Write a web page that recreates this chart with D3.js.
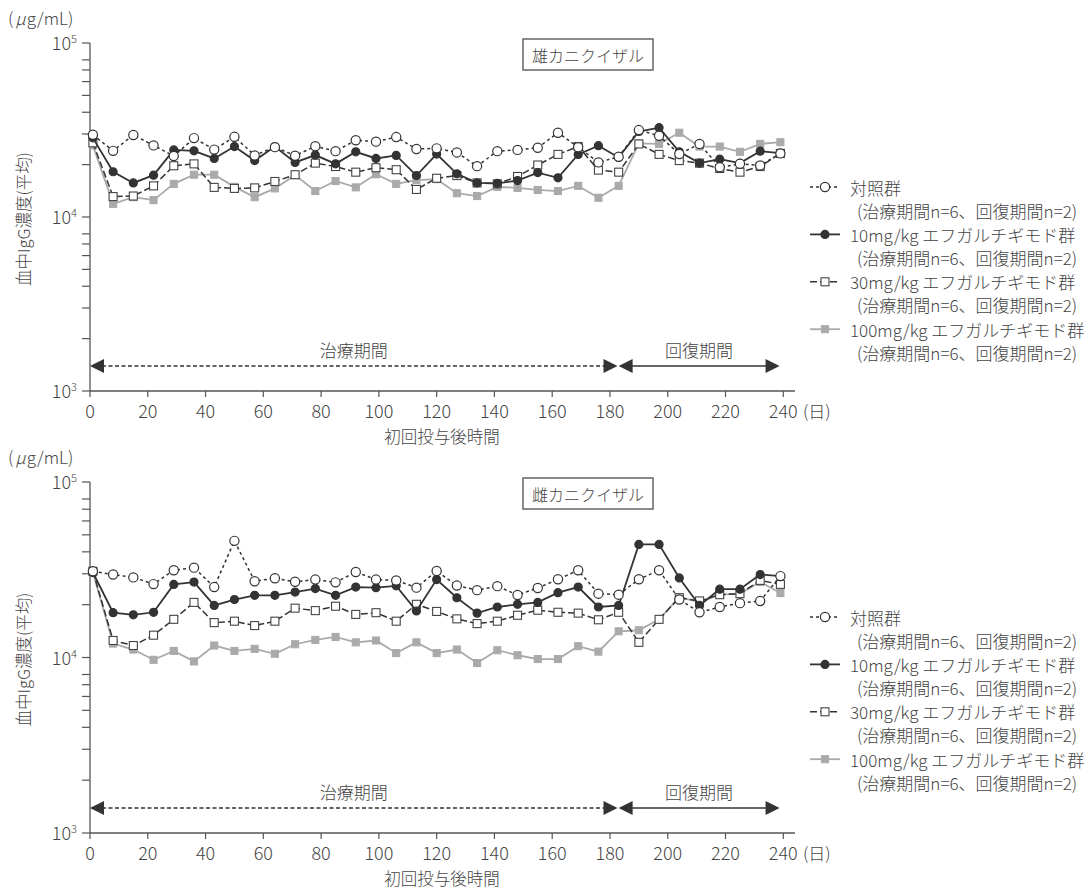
<!DOCTYPE html>
<html><head><meta charset="utf-8">
<script src="https://cdn.jsdelivr.net/npm/d3@7"></script>
<style>
body{margin:0;background:#fff}
text{font-family:"Noto Sans CJK JP","Noto Sans",sans-serif;fill:#444;font-weight:300}
</style>
</head><body><svg id="c" width="1091" height="889"></svg>
<script>
// ---- data ----
const days = [1,8,15,22,29,36,43,50,57,64,71,78,85,92,99,106,113,120,127,134,141,148,155,162,169,176,183,190,197,204,211,218,225,232,239];

const maleControl = [29700,24000,29600,25800,22400,28400,24400,28900,22600,25200,22500,25500,23900,27600,27100,28800,24600,24800,23500,19600,23900,24300,25000,30500,25200,20600,22200,31600,29300,23000,26300,19300,20200,19800,23200];
const male10 = [28500,18200,15700,17400,24300,24000,21700,25400,21100,25400,20600,22700,20200,23700,21700,22600,17300,23000,17700,15700,15600,16200,18000,16800,22900,25700,22000,31000,32600,23700,20400,21500,20400,23900,23300];
const male30 = [26700,13100,13200,15100,19700,20200,14800,14600,14700,16000,17500,20400,19500,18100,19200,18700,14400,16700,17300,15700,15500,17100,19900,22900,25400,18600,18100,26300,22900,21100,20400,19000,18100,19500,23200];
const male100 = [25800,11900,13000,12500,15500,17500,17500,14900,13000,14600,17400,14100,16100,14800,17600,15500,16300,16500,13700,13200,14900,14700,14300,14100,15100,12900,15100,26500,26300,30500,25400,25400,23700,26300,26900];

const femControl = [31000,29700,28600,26200,31400,32500,25200,46200,27200,28300,27000,27800,26800,30700,27800,27500,25000,31100,25700,24200,25500,22700,24900,27900,31400,23100,22800,27900,31400,21400,18100,19400,20400,21000,29100];
const fem10 = [30500,18000,17500,18100,26100,26900,19800,21400,22600,22600,23600,24700,22600,25200,25000,25600,18400,27800,21900,17900,19400,20100,20600,23400,25200,19400,19800,44100,44100,28400,19800,24500,24500,29700,29100];
const fem30 = [31000,12500,11700,13400,16500,20600,15800,16100,15200,16100,19100,18500,19600,17600,18000,16100,20100,18300,16600,15600,16100,17400,18600,18100,17900,16400,18100,12200,16500,21900,21000,22800,23100,27500,26100];
const fem100 = [30500,12000,11100,9700,10900,9500,11700,10900,11200,10500,11900,12600,13100,12200,12500,10600,12200,10600,11100,9300,11000,10300,9800,9800,11600,10800,14100,14300,16500,22100,20700,22800,23100,26900,23300];

const seriesNames = ["対照群","10mg/kg エフガルチギモド群","30mg/kg エフガルチギモド群","100mg/kg エフガルチギモド群"];
const legendNote = "(治療期間n=6、回復期間n=2)";
const panelTitles = ["雄カニクイザル","雌カニクイザル"];
const xTicks = [0,20,40,60,80,100,120,140,160,180,200,220,240];
const yMajor = [1000,10000,100000];
const yMinorMult = [2,3,4,5,6,7,8];
const periods = [
  {label:"治療期間", start:0, end:182.6, dashed:true},
  {label:"回復期間", start:183.0, end:238.7, dashed:false}
];
const xLabel = "初回投与後時間";
const yLabel = "血中IgG濃度(平均)";
const dayUnit = "(日)";

// ---- styles ----
const styles = [
  {stroke:"#333", dash:"3,3", width:1.5, marker:"circle", fill:"#fff", mstroke:"#333", size:4.6},
  {stroke:"#333", dash:null, width:1.8, marker:"circle", fill:"#333", mstroke:"#333", size:4},
  {stroke:"#333", dash:"7,3", width:1.5, marker:"square", fill:"#fff", mstroke:"#444", size:8},
  {stroke:"#aaa", dash:null, width:1.8, marker:"square", fill:"#aaa", mstroke:"#aaa", size:7}
];

const svg = d3.select("#c");
const panels = [
  {title:panelTitles[0], top:43, bottom:391, data:[maleControl,male10,male30,male100], legendY:187},
  {title:panelTitles[1], top:482, bottom:833, data:[femControl,fem10,fem30,fem100], legendY:617}
];
const axisColor = "#555";

panels.forEach(p => {
  const g = svg.append("g");
  const x = d3.scaleLinear().domain([0,240]).range([90,783.3]);
  const y = d3.scaleLog().domain([1000,100000]).range([p.bottom,p.top]);

  // axes lines
  g.append("line").attr("x1",90).attr("x2",90).attr("y1",p.top).attr("y2",p.bottom).attr("stroke",axisColor).attr("stroke-width",1.3);
  g.append("line").attr("x1",90).attr("x2",795).attr("y1",p.bottom).attr("y2",p.bottom).attr("stroke",axisColor).attr("stroke-width",1.3);

  // y ticks
  const yt = [];
  yMajor.forEach((v,i)=>{ yt.push(v); if(i<yMajor.length-1) yMinorMult.forEach(m=>yt.push(v*m)); });
  g.selectAll(".yt").data(yt).enter().append("line")
    .attr("x1",82).attr("x2",90).attr("y1",d=>y(d)).attr("y2",d=>y(d))
    .attr("stroke",axisColor).attr("stroke-width",1.2);
  yMajor.forEach(v=>{
    const t = g.append("text").attr("x",77).attr("y",y(v)+7).attr("text-anchor","end").attr("font-size",18);
    t.append("tspan").text("10");
    t.append("tspan").attr("font-size",11).attr("dy",-7).text(String(Math.round(Math.log10(v))));
  });

  // x ticks
  g.selectAll(".xt").data(xTicks).enter().append("line")
    .attr("x1",d=>x(d)).attr("x2",d=>x(d)).attr("y1",p.bottom).attr("y2",p.bottom+6)
    .attr("stroke",axisColor).attr("stroke-width",1.2);
  g.selectAll(".xl").data(xTicks).enter().append("text")
    .attr("x",d=>x(d)).attr("y",p.bottom+27).attr("text-anchor","middle").attr("font-size",18).text(d=>d);
  g.append("text").attr("x",803).attr("y",p.bottom+27).attr("font-size",17).text(dayUnit);
  g.append("text").attr("x",442).attr("y",p.bottom+52).attr("text-anchor","middle").attr("font-size",16.5).text(xLabel);

  // unit & y label
  const u = g.append("text").attr("x",8).attr("y",p.top-18).attr("font-size",17);
  u.append("tspan").text("(");
  u.append("tspan").attr("font-style","italic").attr("dx",2).text("μ");
  u.append("tspan").attr("dx",1).text("g/mL)");
  g.append("text").attr("transform",`translate(23,${(p.top+p.bottom)/2+2}) rotate(-90)`)
    .attr("text-anchor","middle").attr("dominant-baseline","central").attr("font-size",16.5).text(yLabel);

  // title box
  g.append("rect").attr("x",523).attr("y",p.top-4).attr("width",130).attr("height",31)
    .attr("fill","#fff").attr("stroke","#666").attr("stroke-width",1.5);
  g.append("text").attr("x",588).attr("y",p.top+12).attr("text-anchor","middle").attr("dominant-baseline","central").attr("font-size",16).text(p.title);

  // periods
  const ay = p.bottom-25;
  periods.forEach(pr=>{
    const x0 = x(pr.start), x1 = x(pr.end);
    g.append("line").attr("x1",x0+12).attr("x2",x1-12).attr("y1",ay).attr("y2",ay)
      .attr("stroke","#333").attr("stroke-width",1.5).attr("stroke-dasharray",pr.dashed?"4,2.5":null);
    g.append("path").attr("d",`M${x0},${ay}L${x0+14},${ay-7}L${x0+14},${ay+7}Z`).attr("fill","#333");
    g.append("path").attr("d",`M${x1},${ay}L${x1-14},${ay-7}L${x1-14},${ay+7}Z`).attr("fill","#333");
    g.append("text").attr("x",(x0+x1)/2).attr("y",ay-17).attr("text-anchor","middle").attr("dominant-baseline","central").attr("font-size",17).text(pr.label);
  });

  // series (draw 100mg first)
  [3,2,1,0].forEach(si=>{
    const s = styles[si], vals = p.data[si];
    const pts = days.map((d,i)=>[d,vals[i]]);
    const line = d3.line().x(d=>x(d[0])).y(d=>y(d[1]));
    g.append("path").attr("d",line(pts)).attr("fill","none").attr("stroke",s.stroke)
      .attr("stroke-width",s.width).attr("stroke-dasharray",s.dash);
    drawMarkers(g, pts.map(d=>[x(d[0]),y(d[1])]), s);
  });

  // legend
  seriesNames.forEach((name,i)=>{
    const s = styles[i];
    const ly = p.legendY + i*47.4;
    g.append("line").attr("x1",810).attr("x2",840).attr("y1",ly).attr("y2",ly)
      .attr("stroke",s.stroke).attr("stroke-width",s.width).attr("stroke-dasharray",s.dash);
    drawMarkers(g, [[825,ly]], s);
    g.append("text").attr("x",850).attr("y",ly).attr("dominant-baseline","central").attr("font-size",17).text(name);
    g.append("text").attr("x",857).attr("y",ly+23).attr("dominant-baseline","central").attr("font-size",17).text(legendNote);
  });
});

function drawMarkers(g, pts, s){
  if(s.marker==="circle"){
    g.selectAll(null).data(pts).enter().append("circle")
      .attr("cx",d=>d[0]).attr("cy",d=>d[1]).attr("r",s.size)
      .attr("fill",s.fill).attr("stroke",s.mstroke).attr("stroke-width",1.2);
  } else {
    g.selectAll(null).data(pts).enter().append("rect")
      .attr("x",d=>d[0]-s.size/2).attr("y",d=>d[1]-s.size/2).attr("width",s.size).attr("height",s.size)
      .attr("fill",s.fill).attr("stroke",s.mstroke).attr("stroke-width",1.1);
  }
}
</script></body></html>
